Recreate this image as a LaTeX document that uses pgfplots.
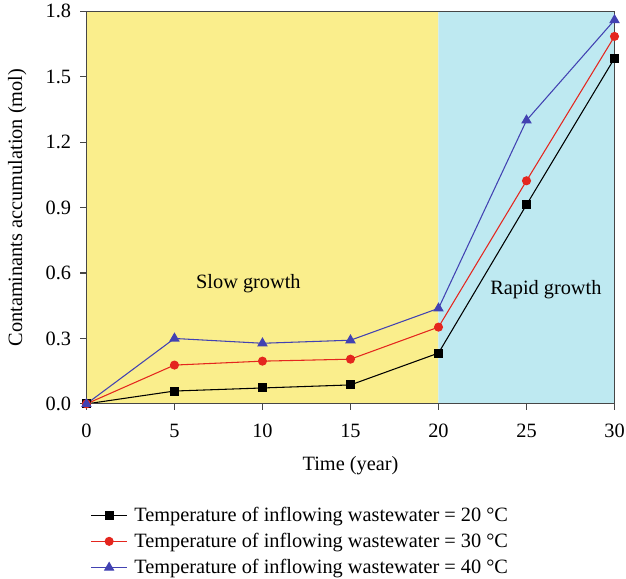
\documentclass[border=0pt]{standalone}
\usepackage{pgfplots}
\pgfplotsset{compat=1.18}
\usepackage{fontspec}
\setmainfont{Liberation Serif}
\definecolor{slowbg}{RGB}{250,238,140}
\definecolor{rapidbg}{RGB}{190,233,241}
\definecolor{sred}{RGB}{228,38,30}
\definecolor{sblue}{RGB}{66,66,178}
\definecolor{axgray}{RGB}{70,70,70}
\begin{document}
\begin{tikzpicture}
\begin{axis}[
  scale only axis,
  width=397.5pt, height=295.5pt,
  xmin=0, xmax=30, ymin=0, ymax=1.8,
  xtick={0,5,...,30},
  ytick={0,0.3,...,1.8},
  yticklabel style={xshift=-3.5pt},
  y tick label style={/pgf/number format/.cd,fixed,fixed zerofill,precision=1,/tikz/.cd},
  x tick label style={yshift=-7pt, inner xsep=1pt},
  /pgf/number format/assume math mode=true,
  tick align=outside, tick pos=left,
  major tick length=4.5pt,
  axis line style={axgray, line width=0.9pt},
  every tick/.style={axgray, line width=0.9pt},
  axis on top,
  font=\fontsize{15.3pt}{18pt}\selectfont,
  xlabel={Time (year)},
  ylabel={Contaminants accumulation (mol)},
  xlabel style={yshift=-7pt},
  ylabel style={yshift=5pt, inner ysep=6pt},
  legend style={at={(0,-0.255)}, anchor=north west, xshift=3pt, draw=none, fill=none,
    inner sep=0pt, row sep=3.5pt, column sep=3pt, cells={anchor=west},
    font=\fontsize{15.3pt}{18.75pt}\selectfont},
  legend image code/.code={\draw[mark repeat=2,mark phase=2] plot coordinates {(0pt,0pt) (13.5pt,0pt) (27pt,0pt)};},
]
\addplot[fill=slowbg, draw=none, forget plot] coordinates {(0,0) (20,0) (20,1.8) (0,1.8)} \closedcycle;
\addplot[fill=rapidbg, draw=none, forget plot] coordinates {(20,0) (30,0) (30,1.8) (20,1.8)} \closedcycle;

\addplot[black, line width=0.8pt, mark=square*, mark size=3pt] coordinates {
  (0,0) (5,0.059) (10,0.073) (15,0.087) (20,0.233) (25,0.913) (30,1.585)};
\addlegendentry{Temperature of inflowing wastewater = 20 °C}
\addplot[sred, line width=0.8pt, mark=*, mark size=3pt] coordinates {
  (0,0) (5,0.178) (10,0.196) (15,0.205) (20,0.352) (25,1.023) (30,1.685)};
\addlegendentry{Temperature of inflowing wastewater = 30 °C}
\addplot[sblue, line width=0.8pt, mark=triangle*, mark size=3.8pt] coordinates {
  (0,0) (5,0.300) (10,0.278) (15,0.292) (20,0.438) (25,1.300) (30,1.760)};
\addlegendentry{Temperature of inflowing wastewater = 40 °C}

\node[font=\fontsize{15.3pt}{18pt}\selectfont] at (axis cs:9.2,0.55) {Slow growth};
\node[font=\fontsize{15.3pt}{18pt}\selectfont] at (axis cs:26.1,0.525) {Rapid growth};
\end{axis}
\end{tikzpicture}
\end{document}
